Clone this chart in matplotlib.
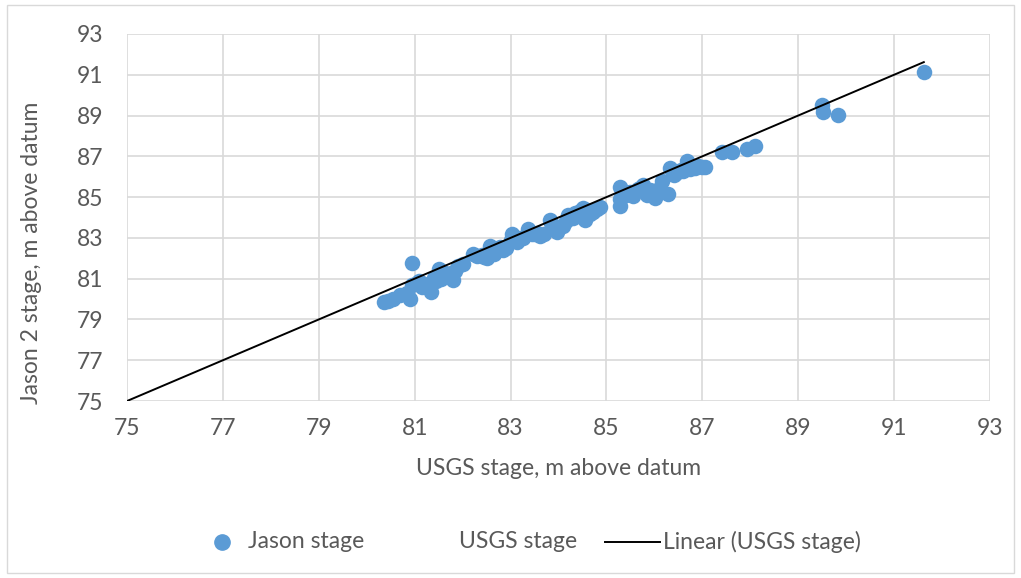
import matplotlib.pyplot as plt
from matplotlib.lines import Line2D
from matplotlib.patches import Rectangle

plt.rcParams["font.family"] = ["Lato", "DejaVu Sans"]

# USGS stage (x) vs Jason 2 stage (y), m above datum
usgs_stage = [
    80.35, 80.45, 80.55, 80.70, 80.85, 80.90, 80.95, 80.95, 81.05, 81.15,
    81.30, 81.35, 81.40, 81.50, 81.55, 81.65, 81.75, 81.80, 81.85, 81.90,
    82.00, 82.22, 82.45, 82.50, 82.57, 82.65, 82.78, 82.84, 83.03, 83.13,
    83.25, 83.36, 83.50, 83.62, 83.82, 83.90, 83.97, 84.10, 84.20, 84.35,
    84.51, 84.55, 84.60, 84.72, 84.87, 85.28, 85.28, 85.28, 85.40, 85.55,
    85.70, 85.76, 85.90, 85.95, 86.01, 86.15, 86.28, 86.33, 86.45, 86.55,
    86.68, 86.75, 86.90, 87.06, 87.41, 87.62, 87.93, 88.10, 89.50, 89.52,
    89.83, 91.62,
    81.10, 81.20, 81.45, 81.60, 82.30, 82.40, 82.55, 82.70, 82.90, 83.00,
    83.20, 83.45, 83.55, 83.70, 83.85, 84.00, 84.15, 84.30, 84.45, 84.65,
    84.80, 85.35, 85.50, 85.65, 85.85, 86.05, 86.40, 86.60, 86.85, 87.00,
]
jason_stage = [
    79.85, 79.90, 80.00, 80.20, 80.30, 80.00, 81.75, 80.70, 80.80, 80.60,
    80.65, 80.35, 81.05, 81.45, 81.00, 81.20, 81.30, 80.95, 81.40, 81.60,
    81.70, 82.20, 82.05, 82.00, 82.60, 82.20, 82.55, 82.40, 83.20, 82.80,
    83.00, 83.45, 83.20, 83.10, 83.90, 83.50, 83.30, 83.60, 84.10, 84.20,
    84.45, 83.90, 84.35, 84.25, 84.50, 85.50, 84.90, 84.55, 85.10, 85.05,
    85.45, 85.60, 85.35, 85.20, 84.95, 85.80, 85.15, 86.45, 86.20, 86.35,
    86.75, 86.40, 86.55, 86.50, 87.20, 87.20, 87.35, 87.50, 89.50, 89.15,
    89.05, 91.15,
    80.90, 80.75, 80.90, 81.35, 82.10, 82.15, 82.30, 82.35, 82.50, 82.90,
    83.00, 83.20, 83.25, 83.20, 83.75, 83.55, 83.85, 84.00, 84.30, 84.15,
    84.40, 85.30, 85.25, 85.40, 85.10, 85.35, 86.10, 86.30, 86.45, 86.50,
]

# linear trendline of the USGS stage series (1:1)
trend_x = [75, 91.62]
trend_y = [75, 91.62]

ticks = list(range(75, 94, 2))
grey = "#595959"
blue = "#5b9bd5"
fs = 16.5

fig = plt.figure(figsize=(10.21, 5.78), dpi=100)
ax = fig.add_axes([0.1244, 0.3062, 0.8452, 0.635])

ax.scatter(usgs_stage, jason_stage, s=125, color=blue, zorder=3,
           linewidths=0)
ax.plot(trend_x, trend_y, color="black", linewidth=1.4, zorder=4)

ax.set_xlim(75, 93)
ax.set_ylim(75, 93)
ax.set_xticks(ticks)
ax.set_yticks(ticks)
ax.grid(True, color="#d9d9d9", linewidth=1.2)
ax.set_axisbelow(True)
for s in ax.spines.values():
    s.set_visible(False)
ax.tick_params(axis="x", length=0, labelsize=fs, colors=grey, pad=12)
ax.tick_params(axis="y", length=0, labelsize=fs, colors=grey, pad=17)
ax.set_xlabel("USGS stage, m above datum", fontsize=fs, color=grey)
ax.set_ylabel("Jason 2 stage, m above datum", fontsize=fs, color=grey)
ax.xaxis.set_label_coords(0.5, -0.155)
ax.yaxis.set_label_coords(-0.0985, 0.405)

# legend drawn item by item (Excel-style spacing)
ly = 0.0623
fig.add_artist(Line2D([222 / 1021], [ly], marker="o", color=blue,
                      markersize=11, linestyle="none",
                      transform=fig.transFigure))
fig.text(248 / 1021, ly, "Jason stage", fontsize=fs, color=grey,
         va="center")
fig.text(459 / 1021, ly, "USGS stage", fontsize=fs, color=grey,
         va="center")
fig.add_artist(Line2D([605 / 1021, 660 / 1021], [ly, ly], color="black",
                      linewidth=1.4, transform=fig.transFigure))
fig.text(663 / 1021, ly, "Linear (USGS stage)", fontsize=fs, color=grey,
         va="center")

fig.add_artist(Rectangle((0.007, 0.008), 0.986, 0.984,
                         transform=fig.transFigure, fill=False,
                         edgecolor="#d9d9d9", linewidth=1))

plt.savefig("out.png", dpi=100)
